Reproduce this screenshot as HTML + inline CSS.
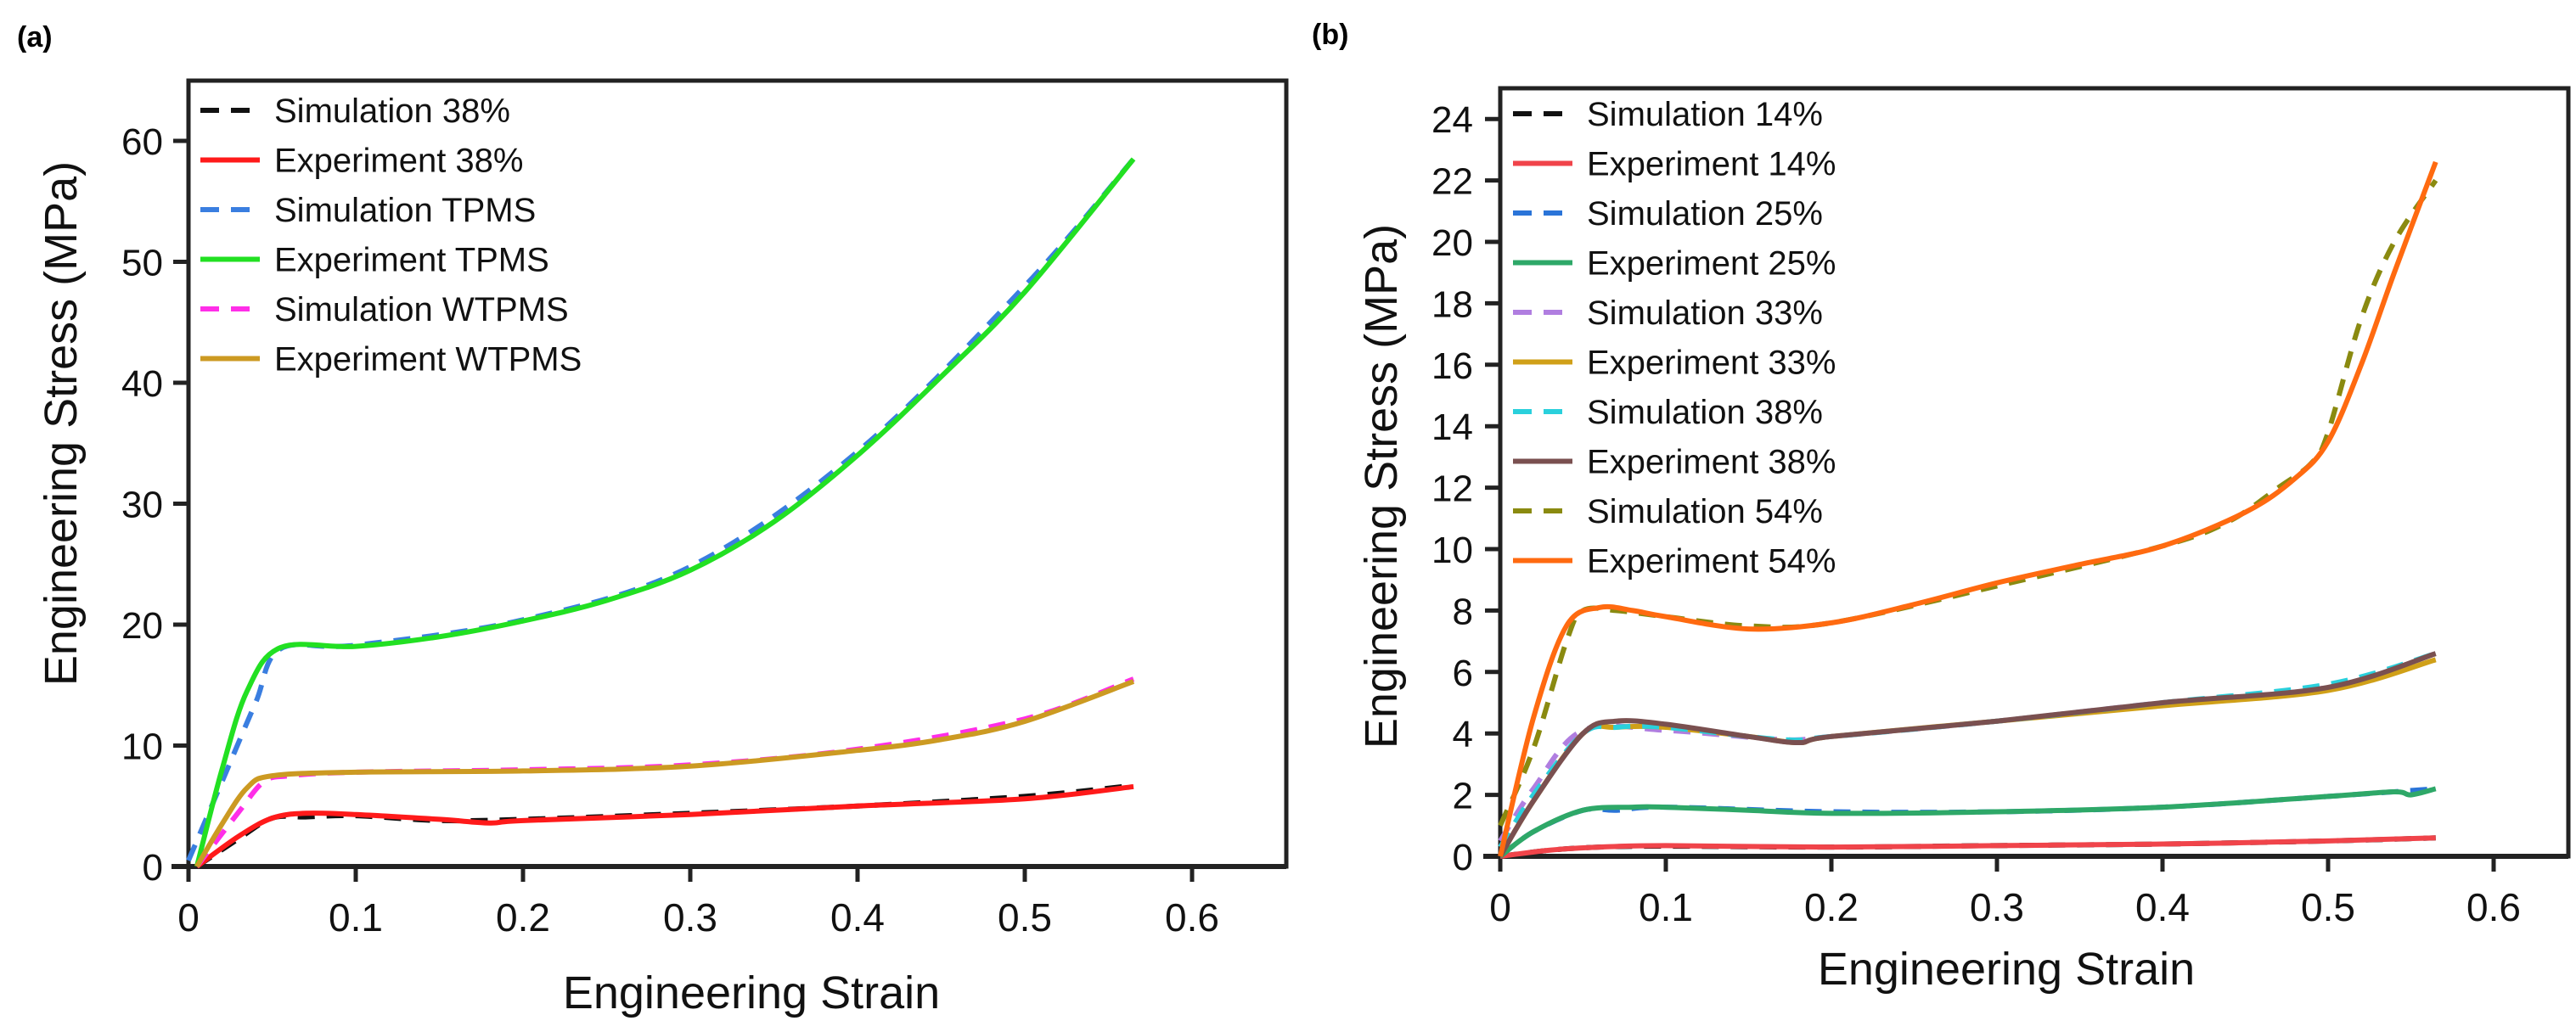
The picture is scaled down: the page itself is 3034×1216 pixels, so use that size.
<!DOCTYPE html>
<html><head><meta charset="utf-8"><style>
html,body{margin:0;padding:0;background:#fff;}
svg{display:block;font-family:"Liberation Sans",Arial,sans-serif;}
</style></head><body>
<svg id="fig" width="3034" height="1216" viewBox="0 0 3034 1216"></svg>
<script>
// ---- Panel (a) data ----
const aTicksX=[0,0.1,0.2,0.3,0.4,0.5,0.6];
const aTicksY=[0,10,20,30,40,50,60];
const aSim38X=[0.005,0.03,0.05,0.07,0.1,0.15,0.2,0.3,0.4,0.5,0.565];
const aSim38Y=[0,2.3,4,4.1,4.2,3.8,3.9,4.4,5,5.8,6.7];
const aExp38X=[0.005,0.03,0.05,0.07,0.1,0.15,0.18,0.2,0.3,0.4,0.5,0.565];
const aExp38Y=[0,2.5,4,4.4,4.3,3.9,3.6,3.8,4.3,5,5.6,6.6];
const aSimTX=[0,0.02,0.04,0.055,0.1,0.2,0.3,0.4,0.5,0.565];
const aSimTY=[0.5,7,13.5,18,18.3,20.4,24.8,34.3,48,58.5];
const aExpTX=[0.005,0.02,0.035,0.055,0.1,0.15,0.2,0.25,0.3,0.35,0.4,0.45,0.5,0.565];
const aExpTY=[0,8,14.5,18.1,18.2,19,20.3,22,24.5,28.5,34,40.5,47.5,58.5];
const aSimWX=[0.005,0.03,0.045,0.06,0.1,0.2,0.3,0.4,0.5,0.565];
const aSimWY=[0,4.5,7,7.5,7.8,8,8.4,9.7,12.2,15.5];
const aExpWX=[0.005,0.02,0.035,0.05,0.1,0.2,0.3,0.4,0.45,0.5,0.565];
const aExpWY=[0,3.5,6.5,7.5,7.8,7.9,8.3,9.6,10.5,12,15.3];
const aNames=["Simulation 38%","Experiment 38%","Simulation TPMS","Experiment TPMS","Simulation WTPMS","Experiment WTPMS"];
// ---- Panel (b) data ----
const bTicksX=[0,0.1,0.2,0.3,0.4,0.5,0.6];
const bTicksY=[0,2,4,6,8,10,12,14,16,18,20,22,24];
const bSim14X=[0,0.03,0.06,0.1,0.2,0.3,0.4,0.5,0.565];
const bSim14Y=[0,0.2,0.3,0.33,0.3,0.35,0.4,0.5,0.6];
const bExp14X=[0,0.03,0.06,0.1,0.2,0.3,0.4,0.5,0.565];
const bExp14Y=[0,0.2,0.3,0.35,0.3,0.35,0.4,0.5,0.6];
const bSim25X=[0,0.02,0.05,0.07,0.1,0.2,0.3,0.4,0.5,0.565];
const bSim25Y=[0,0.8,1.5,1.5,1.6,1.45,1.45,1.6,1.95,2.2];
const bExp25X=[0,0.02,0.05,0.08,0.1,0.15,0.2,0.3,0.4,0.5,0.54,0.55,0.565];
const bExp25Y=[0,0.8,1.5,1.6,1.6,1.5,1.4,1.45,1.6,1.95,2.1,2.0,2.2];
const bSim33X=[0,0.02,0.05,0.1,0.17,0.2,0.3,0.4,0.5,0.565];
const bSim33Y=[0.5,2.2,4.1,4.1,3.8,3.9,4.4,5,5.5,6.6];
const bExp33X=[0,0.02,0.05,0.07,0.1,0.15,0.18,0.2,0.3,0.4,0.5,0.565];
const bExp33Y=[0,1.8,4,4.2,4.2,3.9,3.7,3.9,4.4,4.9,5.4,6.4];
const bSim38X=[0,0.02,0.05,0.07,0.1,0.17,0.2,0.3,0.4,0.5,0.565];
const bSim38Y=[0.3,2,4,4.2,4.2,3.8,3.9,4.4,5,5.6,6.6];
const bExp38X=[0,0.02,0.05,0.07,0.1,0.15,0.18,0.2,0.3,0.4,0.5,0.565];
const bExp38Y=[0,1.8,4,4.4,4.3,3.9,3.7,3.9,4.4,5,5.5,6.6];
const bSim54X=[0,0.02,0.04,0.05,0.07,0.1,0.15,0.2,0.3,0.4,0.44,0.47,0.49,0.5,0.52,0.54,0.565];
const bSim54Y=[1,3.5,7,8,8,7.8,7.5,7.6,8.8,10.1,10.9,12,12.8,13.8,17.5,20,22];
const bExp54X=[0,0.02,0.04,0.06,0.08,0.1,0.15,0.2,0.25,0.3,0.35,0.4,0.45,0.48,0.5,0.52,0.54,0.565];
const bExp54Y=[0,4.5,7.5,8.1,8,7.8,7.4,7.6,8.2,8.9,9.5,10.1,11.2,12.3,13.5,16,19,22.6];
const bNames=["Simulation 14%","Experiment 14%","Simulation 25%","Experiment 25%","Simulation 33%","Experiment 33%","Simulation 38%","Experiment 38%","Simulation 54%","Experiment 54%"];

const NS="http://www.w3.org/2000/svg";
const svg=document.getElementById('fig');
function mk(tag,attrs,parent){const e=document.createElementNS(NS,tag);for(const k in attrs)e.setAttribute(k,attrs[k]);(parent||svg).appendChild(e);return e;}
function smooth(pts){let d=`M${pts[0][0]},${pts[0][1]}`;for(let i=0;i<pts.length-1;i++){const p0=pts[i-1]||pts[i],p1=pts[i],p2=pts[i+1],p3=pts[i+2]||p2;
const c1=[p1[0]+(p2[0]-p0[0])/6,p1[1]+(p2[1]-p0[1])/6],c2=[p2[0]-(p3[0]-p1[0])/6,p2[1]-(p3[1]-p1[1])/6];
d+=` C${c1[0]},${c1[1]} ${c2[0]},${c2[1]} ${p2[0]},${p2[1]}`;}return d;}

function panel(cfg){
  const g=mk('g',{});
  
  
  const sx=v=>cfg.x0+v*cfg.kx, sy=v=>cfg.y0-v*cfg.ky;
  const lab=mk('text',{x:cfg.labX,y:cfg.labY,'font-size':34,'font-weight':'bold',fill:'#000'},g);lab.textContent=cfg.label;
  
  
  const fr=mk('rect',{x:cfg.x0,y:cfg.top,width:cfg.right-cfg.x0,height:cfg.y0-cfg.top,fill:'none',stroke:'#222',"stroke-width":5},g);
  
  
  const ax=mk('line',{x1:cfg.x0-20,x2:cfg.right,y1:cfg.y0,y2:cfg.y0,stroke:'#222','stroke-width':6},g);
  
  
  cfg.tx.forEach(t=>{const x=sx(t);mk('line',{x1:x,x2:x,y1:cfg.y0,y2:cfg.y0+18,stroke:'#222','stroke-width':5},g);
    const tt=mk('text',{x:x,y:cfg.xlabY,'font-size':46,'text-anchor':'middle',fill:'#111'},g);tt.textContent=String(t);
    
    });
  cfg.ty.forEach(t=>{const y=sy(t);mk('line',{x1:cfg.x0-18,x2:cfg.x0,y1:y,y2:y,stroke:'#222','stroke-width':5},g);
    const tt=mk('text',{x:cfg.ylabX,y:y+16,'font-size':44,'text-anchor':'end',fill:'#111'},g);tt.textContent=String(t);
    
    });
  const xt=mk('text',{x:cfg.xtX,y:cfg.xtY,'font-size':54,'text-anchor':'middle',fill:'#111'},g);xt.textContent='Engineering Strain';
  
  
  const yt=mk('text',{x:0,y:0,'font-size':54,'text-anchor':'middle',fill:'#111',transform:`translate(${cfg.ytX},${cfg.ytY}) rotate(-90)`},g);yt.textContent='Engineering Stress (MPa)';
  
  
  cfg.series.forEach((s,i)=>{
    const pts=s.xs.map((v,j)=>[sx(v),sy(s.ys[j])]);
    const p=mk('path',{d:smooth(pts),fill:'none',stroke:s.c,'stroke-width':6,'stroke-linecap':'butt','stroke-dasharray':s.dash?'20 14':'none'},g);
    
    
  });
  cfg.series.forEach((s,i)=>{
    const y=cfg.legY+i*58.5;
    const l=mk('line',{x1:cfg.legX,x2:cfg.legX+70,y1:y,y2:y,stroke:s.c,'stroke-width':6,'stroke-dasharray':s.dash?'22 14':'none'},g);
    
    
    const t=mk('text',{x:cfg.legX+87,y:y+14,'font-size':40,fill:'#111'},g);t.textContent=cfg.names[i];
    
    
  });
}
panel({name:'panel-a',label:'(a)',labX:20,labY:55,x0:222,kx:1970,y0:1021,ky:14.25,top:95,right:1515,ylabX:192,xlabY:1097,xtX:885,xtY:1188,ytX:90,ytY:499,legX:236,legY:130,names:aNames,tx:aTicksX,ty:aTicksY,
 series:[{xs:aSim38X,ys:aSim38Y,c:'#111',dash:1},{xs:aExp38X,ys:aExp38Y,c:'#ff1a1a'},{xs:aSimTX,ys:aSimTY,c:'#3a7ee0',dash:1},{xs:aExpTX,ys:aExpTY,c:'#22e022'},{xs:aSimWX,ys:aSimWY,c:'#ff2ee8',dash:1},{xs:aExpWX,ys:aExpWY,c:'#cc9a22'}]});
panel({name:'panel-b',label:'(b)',labX:1545,labY:52,x0:1767,kx:1950,y0:1009,ky:36.2,top:104,right:3025,ylabX:1735,xlabY:1085,xtX:2363,xtY:1160,ytX:1645,ytY:573,legX:1782,legY:134,names:bNames,tx:bTicksX,ty:bTicksY,
 series:[{xs:bSim14X,ys:bSim14Y,c:'#111',dash:1},{xs:bExp14X,ys:bExp14Y,c:'#f0444a'},{xs:bSim25X,ys:bSim25Y,c:'#2a74d8',dash:1},{xs:bExp25X,ys:bExp25Y,c:'#2ea868'},{xs:bSim33X,ys:bSim33Y,c:'#b07ee0',dash:1},{xs:bExp33X,ys:bExp33Y,c:'#d0a018'},{xs:bSim38X,ys:bSim38Y,c:'#2ad0dc',dash:1},{xs:bExp38X,ys:bExp38Y,c:'#7a5050'},{xs:bSim54X,ys:bSim54Y,c:'#8a8a10',dash:1},{xs:bExp54X,ys:bExp54Y,c:'#ff6a10'}]});
</script>
</body></html>
